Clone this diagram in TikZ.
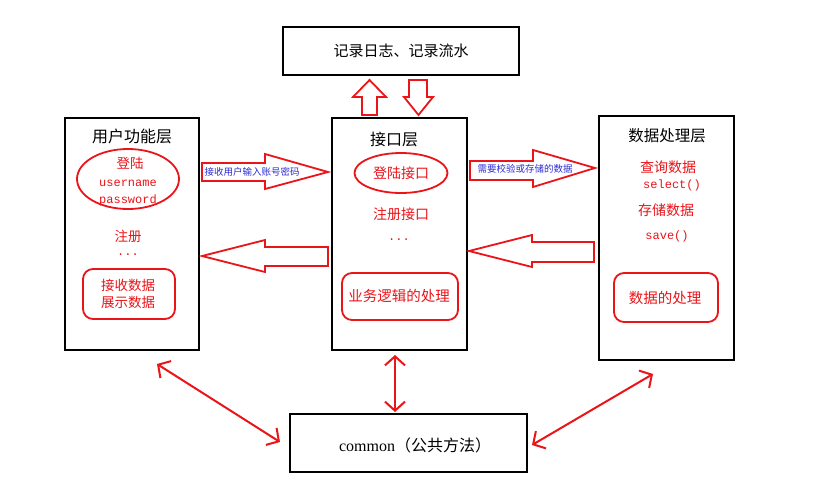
\documentclass[tikz,border=0pt]{standalone}
\usepackage{fontspec}
\setmainfont{Liberation Serif}
\newfontfamily\cjk{Noto Sans CJK SC}
\newfontfamily\mono{Liberation Mono}
\usetikzlibrary{arrows.meta,shapes.geometric}
\definecolor{rd}{RGB}{235,20,25}
\definecolor{bl}{RGB}{45,45,210}
\tikzset{
  layer/.style={draw=black, line width=2.6pt, fill=white, inner sep=0pt},
  redshape/.style={draw=rd, line width=1.8pt, inner sep=0pt},
  rbox/.style={redshape, rounded corners=10pt},
  oval/.style={redshape, ellipse},
  blockarrow/.style={draw=rd, line width=1.8pt, fill=white, line join=miter},
  dbl/.style={draw=rd, line width=2pt, {Straight Barb[length=9pt,width=20pt,line width=2pt]}-{Straight Barb[length=9pt,width=20pt,line width=2pt]}},
  title/.style={font=\cjk\fontsize{16}{18}\selectfont, text=black},
  redtxt/.style={font=\cjk\fontsize{13.5}{16}\selectfont, text=rd},
  monotxt/.style={font=\mono\fontsize{12}{14}\selectfont, text=rd},
  bluetxt/.style={font=\cjk\fontsize{9.5}{11}\selectfont, text=bl, inner sep=0pt},
}
\begin{document}
\begin{tikzpicture}[x=1pt,y=-1pt]
\useasboundingbox (0,0) rectangle (824,498);
\fill[white] (0,0) rectangle (824,498);

% layer boxes
\node[layer, minimum width=236pt, minimum height=48pt] (log) at (401,51) {};
\node[title, font=\cjk\fontsize{15}{18}\selectfont] (logt) at (401,51) {记录日志、记录流水};
\node[layer, minimum width=134pt, minimum height=232pt] (user) at (132,234) {};
\node[layer, minimum width=135pt, minimum height=232pt] (api) at (399.5,234) {};
\node[layer, minimum width=135pt, minimum height=244pt] (data) at (666.5,238) {};
\node[layer, minimum width=237pt, minimum height=58pt] (common) at (408.5,443) {};
\node (commont) at (415,445) {\fontsize{16}{18}\selectfont common{\cjk （公共方法）}};

% user layer
\node[title] (usert) at (132,136) {用户功能层};
\node[oval, minimum width=102pt, minimum height=60pt] (login) at (128,179) {};
\node[redtxt] (logint) at (130,163) {登陆};
\node[monotxt] (uname) at (128,183) {username};
\node[monotxt] (pwd) at (128,200) {password};
\node[redtxt] (reg) at (128,236) {注册};
\node[monotxt] (dots1) at (128,255) {...};
\node[rbox, minimum width=92pt, minimum height=50pt] (recv) at (129,294) {};
\node[redtxt] (recv1) at (128,285) {接收数据};
\node[redtxt] (recv2) at (128,302) {展示数据};

% api layer
\node[title] (apit) at (394,139) {接口层};
\node[oval, minimum width=93pt, minimum height=40pt] (loginapi) at (401,173) {};
\node[redtxt, font=\cjk\fontsize{14}{16}\selectfont] (loginapit) at (401,173) {登陆接口};
\node[redtxt, font=\cjk\fontsize{14}{16}\selectfont] (regapi) at (401,214) {注册接口};
\node[monotxt] (dots2) at (399,240) {...};
\node[rbox, minimum width=116pt, minimum height=47pt] (biz) at (400,296.5) {};
\node[redtxt, font=\cjk\fontsize{14.5}{16}\selectfont] (bizt) at (399,296) {业务逻辑的处理};

% data layer
\node[title, font=\cjk\fontsize{15.5}{18}\selectfont] (datat) at (667,136) {数据处理层};
\node[redtxt, font=\cjk\fontsize{14}{16}\selectfont] (query) at (668,167) {查询数据};
\node[monotxt] (sel) at (672,185) {select()};
\node[redtxt, font=\cjk\fontsize{14}{16}\selectfont] (store) at (666,210) {存储数据};
\node[monotxt] (save) at (667,236) {save()};
\node[rbox, minimum width=104pt, minimum height=49pt] (proc) at (666,297.5) {};
\node[redtxt, font=\cjk\fontsize{14.5}{16}\selectfont] (proct) at (665,298) {数据的处理};

% block arrows between log and api
\draw[blockarrow] (362,115) -- (362,97) -- (353,97) -- (369.5,80) -- (386,97) -- (377,97) -- (377,115) -- cycle;
\draw[blockarrow] (409,80) -- (409,97) -- (404,97) -- (418.5,115) -- (433,97) -- (427,97) -- (427,80) -- cycle;

% block arrows user <-> api
\draw[blockarrow] (202,163) -- (265,163) -- (265,154) -- (328,172) -- (265,189) -- (265,181) -- (202,181) -- cycle;
\node[bluetxt] (in1) at (252,172) {接收用户输入账号密码};
\draw[blockarrow] (328,247) -- (265,247) -- (265,240) -- (202,256) -- (265,272) -- (265,266) -- (328,266) -- cycle;

% block arrows api <-> data
\draw[blockarrow] (470,161) -- (533,161) -- (533,150) -- (595,168) -- (533,187) -- (533,180) -- (470,180) -- cycle;
\node[bluetxt] (in2) at (525,169) {需要校验或存储的数据};
\draw[blockarrow] (594,242) -- (532,242) -- (532,235) -- (469,251) -- (532,267) -- (532,262) -- (594,262) -- cycle;

% double arrows to common
\coordinate (ua) at (157,364);
\coordinate (ca) at (280,442);
\coordinate (da) at (653,374);
\coordinate (cb) at (532,445);
\coordinate (aa) at (395,355);
\coordinate (cc) at (395,412);
\draw[dbl] (ua) -- (ca);
\draw[dbl] (da) -- (cb);
\draw[dbl] (aa) -- (cc);
\end{tikzpicture}
\end{document}
